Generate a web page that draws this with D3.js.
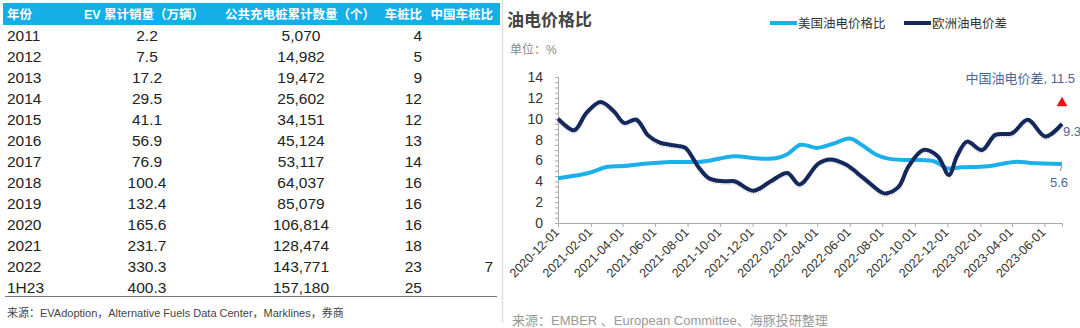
<!DOCTYPE html>
<html><head><meta charset="utf-8">
<script src="https://cdn.jsdelivr.net/npm/d3@7"></script>
<style>
html,body{margin:0;padding:0;background:#fff;}
svg{display:block;font-family:"Liberation Sans","Noto Sans CJK SC",sans-serif;}
</style></head>
<body><svg id="c" width="1080" height="328"></svg>
<script>
// ---------- table data ----------
const tableHeaders = ["年份","EV 累计销量（万辆）","公共充电桩累计数量（个）","车桩比","中国车桩比"];
const years = ["2011","2012","2013","2014","2015","2016","2017","2018","2019","2020","2021","2022","1H23"];
const evSales = ["2.2","7.5","17.2","29.5","41.1","56.9","76.9","100.4","132.4","165.6","231.7","330.3","400.3"];
const chargers = ["5,070","14,982","19,472","25,602","34,151","45,124","53,117","64,037","85,079","106,814","128,474","143,771","157,180"];
const evPerCharger = ["4","5","9","12","12","13","14","16","16","16","18","23","25"];
const chinaRatio = ["","","","","","","","","","","","7",""];
const tableSource = "来源：EVAdoption，Alternative Fuels Data Center，Marklines，券商";

// ---------- chart data ----------
const chartTitle = "油电价格比";
const unitLabel = "单位：%";
const seriesNames = ["美国油电价格比","欧洲油电价差"];
const xTickDates = ["2020-12-01","2021-02-01","2021-04-01","2021-06-01","2021-08-01","2021-10-01","2021-12-01",
  "2022-02-01","2022-04-01","2022-06-01","2022-08-01","2022-10-01","2022-12-01","2023-02-01","2023-04-01","2023-06-01"];
const yTicks = [0,2,4,6,8,10,12,14];
const usDates = ["2020-12-01","2021-01-27","2021-03-04","2021-04-04","2021-05-07","2021-07-01","2021-08-21","2021-09-10",
  "2021-10-28","2021-12-07","2022-01-13","2022-02-04","2022-03-01","2022-03-31","2022-05-01","2022-06-01","2022-06-23",
  "2022-07-19","2022-08-10","2022-09-10","2022-10-07","2022-11-07","2022-12-01","2022-12-28","2023-02-15","2023-04-10",
  "2023-05-07","2023-07-04"];
const usValues = [4.3,4.8,5.4,5.46,5.65,5.85,5.85,5.97,6.4,6.2,6.2,6.6,7.5,7.2,7.6,8.1,7.5,6.6,6.2,6.04,6.04,5.9,5.24,5.34,5.45,5.88,5.75,5.65];
const euDates = ["2020-12-01","2020-12-16","2021-01-01","2021-01-24","2021-02-19","2021-03-16","2021-04-04",
  "2021-04-27","2021-05-19","2021-06-10","2021-07-13","2021-07-28","2021-08-21","2021-09-10","2021-10-07","2021-10-28",
  "2021-12-02","2022-01-04","2022-02-04","2022-02-27","2022-04-03","2022-04-25","2022-05-25","2022-06-27","2022-08-01",
  "2022-08-10","2022-09-01","2022-09-19","2022-10-17","2022-11-13","2022-12-04","2022-12-19","2023-01-07","2023-02-04",
  "2023-03-01","2023-04-01","2023-05-01","2023-06-03","2023-07-04"];
const euValues = [10.0,9.3,8.9,10.6,11.6,10.7,9.6,9.9,8.4,7.7,7.4,7.2,5.4,4.3,4.0,4.0,3.1,4.0,4.8,3.7,5.7,6.1,5.6,4.3,2.9,
  2.85,3.5,5.4,7.0,6.4,4.6,6.4,7.8,7.0,8.45,8.6,9.9,8.3,9.5];
const usEndLabel = "5.6";
const euEndLabel = "9.3";
const chinaDate = "2023-07-04";
const chinaValue = 11.5;
const chinaLabel = "中国油电价差, 11.5";
const chartSource = "来源：EMBER 、European Committee、海豚投研整理";

const svg = d3.select("#c");
const parse = d3.timeParse("%Y-%m-%d");

// ---------- table ----------
svg.append("rect").attr("x",3).attr("y",3).attr("width",497).attr("height",22).attr("fill","#14aee8");
const hdrX = [7,144,300,422,493], hdrA = ["start","middle","middle","end","end"];
svg.selectAll("text.hdr").data(tableHeaders).join("text").attr("class","hdr")
  .attr("x",(d,i)=>hdrX[i]).attr("y",18.5).attr("text-anchor",(d,i)=>hdrA[i])
  .attr("fill","#fff").attr("font-size",12.5).attr("font-weight","bold").text(d=>d);
const cols = [
  {vals:years,x:7,a:"start"},{vals:evSales,x:147,a:"middle"},{vals:chargers,x:301,a:"middle"},
  {vals:evPerCharger,x:422,a:"end"},{vals:chinaRatio,x:493,a:"end"}];
const rowY = d3.scaleLinear().domain([0,12]).range([35,287]);
cols.forEach(c=>{
  svg.append("g").selectAll("text").data(c.vals).join("text")
    .attr("x",c.x).attr("y",(d,i)=>rowY(i)+5.5).attr("text-anchor",c.a)
    .attr("fill","#222").attr("font-size",15.5).text(d=>d);
});
svg.append("line").attr("x1",5).attr("x2",497).attr("y1",296.5).attr("y2",296.5).attr("stroke","#777").attr("stroke-width",1);
svg.append("text").attr("x",7).attr("y",317).attr("font-size",11).attr("fill","#444").text(tableSource);

// separator
svg.append("line").attr("x1",502.5).attr("x2",502.5).attr("y1",0).attr("y2",322).attr("stroke","#ddd").attr("stroke-width",1.5);

// ---------- chart ----------
const x = d3.scaleTime().domain([parse("2020-12-01"),parse("2023-07-04")]).range([558,1062]);
const y = d3.scaleLinear().domain([0,14]).range([223,77]);

svg.append("text").attr("x",507).attr("y",26).attr("font-size",17).attr("font-weight","bold").attr("fill","#444").text(chartTitle);
svg.append("text").attr("x",510).attr("y",54).attr("font-size",12).attr("fill","#888").text(unitLabel);

// legend
const legColors = ["#1cb0ea","#14285c"];
const legX = [770,904];
seriesNames.forEach((n,i)=>{
  svg.append("line").attr("x1",legX[i]).attr("x2",legX[i]+27).attr("y1",23).attr("y2",23)
    .attr("stroke",legColors[i]).attr("stroke-width",4);
  svg.append("text").attr("x",legX[i]+28).attr("y",27.5).attr("font-size",12.5).attr("fill","#333").text(n);
});

// y axis
const yMinor = d3.range(0,14.01,0.5);
const yAx = svg.append("g").attr("transform","translate(558,0)")
  .call(d3.axisLeft(y).tickValues(yMinor).tickSize(3).tickFormat(""));
yAx.select(".domain").attr("stroke","#aaa");
yAx.selectAll(".tick line").attr("stroke","#aaa");
svg.append("g").selectAll("text").data(yTicks).join("text")
  .attr("x",543).attr("y",d=>y(d)+5).attr("text-anchor","end").attr("font-size",14).attr("fill","#333").text(d=>d);

// x axis
const xAx = svg.append("g").attr("transform","translate(0,223)")
  .call(d3.axisBottom(x).tickValues(xTickDates.map(parse)).tickSize(4).tickFormat(""));
xAx.select(".domain").attr("stroke","#aaa");
xAx.selectAll(".tick line").attr("stroke","#aaa");
svg.append("g").selectAll("text").data(xTickDates).join("text")
  .attr("transform",d=>`translate(${x(parse(d))+2},${233}) rotate(-45)`)
  .attr("text-anchor","end").attr("font-size",12.5).attr("fill","#333").text(d=>d);

// lines
const line = d3.line().x(d=>x(d[0])).y(d=>y(d[1])).curve(d3.curveCatmullRom.alpha(0.5));
const usData = usDates.map((d,i)=>[parse(d),usValues[i]]);
const euData = euDates.map((d,i)=>[parse(d),euValues[i]]);
svg.append("path").datum(euData).attr("d",line).attr("fill","none")
  .attr("stroke","#9a9a9a").attr("stroke-width",2.5).attr("stroke-dasharray","1,1.5")
  .attr("transform","translate(0,2.5)").attr("opacity",0.6);
svg.append("path").datum(usData).attr("d",line).attr("fill","none").attr("stroke",legColors[0]).attr("stroke-width",4);
svg.append("path").datum(euData).attr("d",line).attr("fill","none").attr("stroke",legColors[1]).attr("stroke-width",4);

// end labels
const lastUs = usData[usData.length-1];
svg.append("line").attr("x1",x(lastUs[0])).attr("y1",y(lastUs[1])+2).attr("x2",x(lastUs[0])-2).attr("y2",y(lastUs[1])+7)
  .attr("stroke","#4a6694").attr("stroke-width",0.8);
svg.append("text").attr("x",x(lastUs[0])-3).attr("y",y(lastUs[1])+23).attr("text-anchor","middle")
  .attr("font-size",13).attr("fill","#4a6694").text(usEndLabel);
const lastEu = euData[euData.length-1];
svg.append("text").attr("x",x(lastEu[0])+1).attr("y",y(lastEu[1])+12)
  .attr("font-size",13).attr("fill","#4a6694").text(euEndLabel);

// china marker
const cx = x(parse(chinaDate)), cy = y(chinaValue);
svg.append("path").attr("d",d3.symbol().type(d3.symbolTriangle).size(50)()).attr("transform",`translate(${cx},${cy})`).attr("fill","#ee1111");
svg.append("text").attr("x",1075).attr("y",83).attr("text-anchor","end").attr("font-size",13).attr("fill","#4a6694").text(chinaLabel);

svg.append("text").attr("x",512).attr("y",325).attr("font-size",13).attr("fill","#999").text(chartSource);
</script></body></html>
